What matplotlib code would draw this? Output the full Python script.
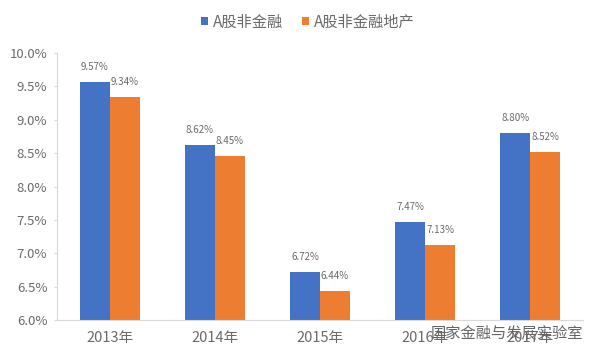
import matplotlib
matplotlib.use('Agg')
import matplotlib.pyplot as plt
import numpy as np

plt.rcParams['font.family'] = ['Noto Sans CJK SC', 'DejaVu Sans']

years = ['2013年', '2014年', '2015年', '2016年', '2017年']
non_fin = [9.57, 8.62, 6.72, 7.47, 8.80]
non_fin_re = [9.34, 8.45, 6.44, 7.13, 8.52]
y_ticks = [6.0, 6.5, 7.0, 7.5, 8.0, 8.5, 9.0, 9.5, 10.0]

blue = '#4472c4'
orange = '#ed7d31'
grey = '#6a6a6a'

fig = plt.figure(figsize=(6, 3.6), dpi=100)
ax = fig.add_axes([57 / 600, 1 - 320 / 360, 526 / 600, 267 / 360])

x = np.arange(len(years))
w = 0.286
ax.bar(x - w / 2, non_fin, w, color=blue, label='A股非金融')
ax.bar(x + w / 2, non_fin_re, w, color=orange, label='A股非金融地产')

for i, v in enumerate(non_fin):
    ax.annotate(f'{v:.2f}%', (x[i] - w / 2, v), xytext=(0, 15), textcoords='offset pixels',
                ha='center', va='center', fontsize=7, color=grey)
for i, v in enumerate(non_fin_re):
    ax.annotate(f'{v:.2f}%', (x[i] + w / 2, v), xytext=(0, 15), textcoords='offset pixels',
                ha='center', va='center', fontsize=7, color=grey)

ax.set_xlim(-0.5, 4.5)
ax.set_ylim(6, 10)
ax.set_yticks(y_ticks)
ax.set_yticklabels([f'{t:.1f}%' for t in y_ticks], fontsize=9.5, color=grey)
ax.set_xticks(x)
ax.set_xticklabels(years, fontsize=10.5, color=grey)
ax.tick_params(axis='x', length=0, pad=8)
ax.tick_params(axis='y', length=2, color='#d9d9d9', pad=5)

for s in ['top', 'right']:
    ax.spines[s].set_visible(False)
for s in ['left', 'bottom']:
    ax.spines[s].set_color('#d9d9d9')

fig.legend(loc='center', bbox_to_anchor=(0.513, 0.938), ncol=2, frameon=False, fontsize=11,
           labelcolor=grey, handlelength=0.45, handleheight=0.45, handletextpad=0.35, columnspacing=1.2)

# watermark
fig.text(431 / 600, 1 - 333 / 360, '国家金融与发展实验室', fontsize=11, color='#666666', va='center', ha='left')

fig.savefig('out.png', dpi=100)
